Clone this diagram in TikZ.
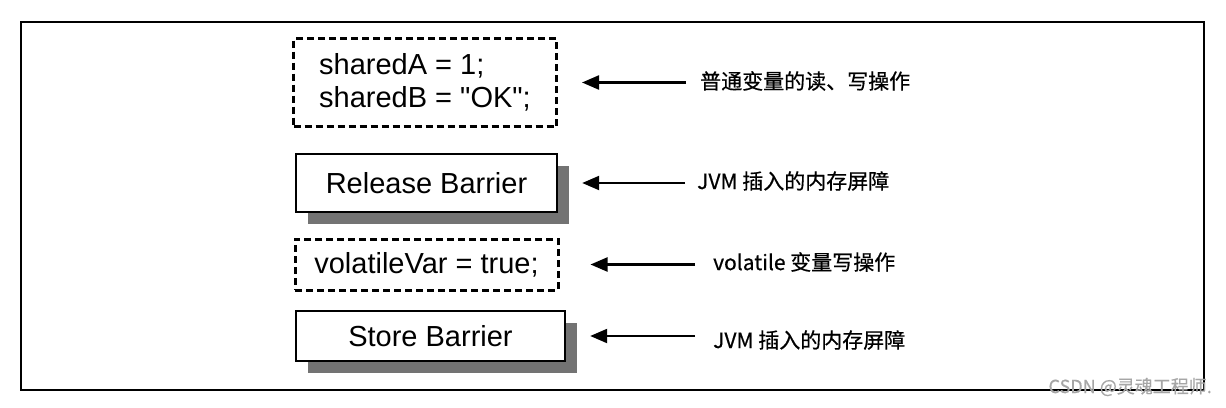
\documentclass[tikz,border=0pt]{standalone}
\usepackage{fontspec}
\setmainfont{Liberation Sans}[Ligatures=TeXOff]
\newfontfamily\cjk{Noto Sans CJK SC}[FakeBold=0.6]
\usetikzlibrary{arrows.meta, shadows, positioning}

\begin{document}
\begin{tikzpicture}[x=1pt, y=-1pt,
    code/.style={draw, line width=3pt, dash pattern=on 7pt off 4pt, align=left, font=\fontsize{29}{33}\selectfont},
    barrier/.style={draw, line width=2.4pt, fill=white, font=\fontsize{29}{33}\selectfont,
        drop shadow={shadow xshift=12pt, shadow yshift=-12pt, fill=black!55, opacity=1}},
    note/.style={anchor=west, inner sep=0pt, font=\cjk\fontsize{21}{24}\selectfont},
    arrow/.style={-{Triangle[length=17pt,width=14pt]}, line width=2.2pt, shorten <=14pt, shorten >=24pt}
]
    \useasboundingbox (0,0) rectangle (1226,407);

    % Frame
    \draw[line width=1.5pt] (21,22) rectangle (1204,390);

    % Instructions
    \node[code, minimum width=263pt, minimum height=88pt] (shared) at (425,82.5) {sharedA = 1;\\sharedB = "OK";};
    \node[barrier, minimum width=261pt, minimum height=58pt] (release) at (426.5,183) {Release Barrier};
    \node[code, minimum width=263pt, minimum height=51pt] (volatile) at (426.5,264.5) {volatileVar = true;};
    \node[barrier, minimum width=269pt, minimum height=50pt] (store) at (430.5,336) {Store Barrier};

    % Notes
    \node[note] (plain) at (700,81) {普通变量的读、写操作};
    \node[note] (jvm1) at (697,181) {JVM 插入的内存屏障};
    \node[note] (vwrite) at (713,262) {volatile 变量写操作};
    \node[note] (jvm2) at (713,340) {JVM 插入的内存屏障};

    \draw[arrow] (plain.west |- shared.east) -- (shared.east);
    \draw[arrow, shorten <=12pt] (jvm1.west |- release.east) -- (release.east);
    \draw[arrow, shorten <=18pt, shorten >=31pt] (vwrite.west |- volatile.east) -- (volatile.east);
    \draw[arrow, shorten <=18pt] (jvm2.west |- store.east) -- (store.east);

    \node[anchor=east, inner sep=0pt, text=gray!70, font=\cjk\fontsize{18}{20}\selectfont] (mark) at (1212,387) {CSDN @灵魂工程师.};
\end{tikzpicture}
\end{document}
